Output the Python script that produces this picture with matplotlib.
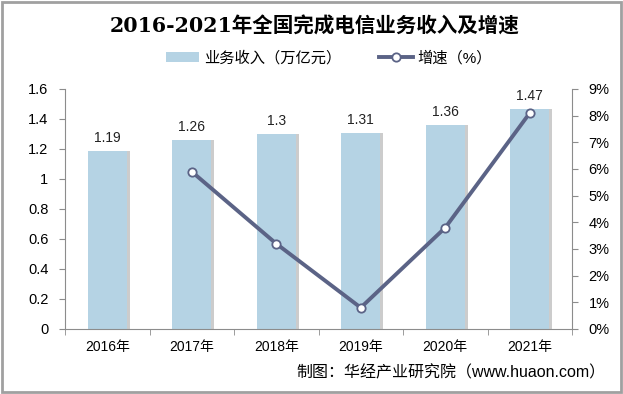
import numpy as np
import matplotlib.pyplot as plt
from matplotlib.patches import Rectangle

plt.rcParams['font.family'] = ['Liberation Sans', 'Noto Sans CJK SC']
plt.rcParams['axes.unicode_minus'] = False

years = ['2016年', '2017年', '2018年', '2019年', '2020年', '2021年']
revenue = [1.19, 1.26, 1.3, 1.31, 1.36, 1.47]
growth_years = [1, 2, 3, 4, 5]
growth = [5.9, 3.2, 0.8, 3.8, 8.1]

bar_color = '#b5d3e4'
line_color = '#5b6386'
gray = '#8c8c8c'

fig = plt.figure(figsize=(6.23, 3.94), dpi=100)
fig.patch.set_facecolor('white')
fig.add_artist(Rectangle((0.003, 0.004), 0.994, 0.99, transform=fig.transFigure,
                         fill=False, edgecolor='#a0a0a0', linewidth=2))

ax = fig.add_axes([65 / 623, 1 - 329 / 394, (572 - 65) / 623, (329 - 89) / 394])
x = np.arange(len(years))

# bar shadow then bar
ax.bar(x + 0.035, revenue, width=0.46, color='#9a9a9a', alpha=0.5, zorder=1)
bars = ax.bar(x, revenue, width=0.46, color=bar_color, zorder=2, label='业务收入（万亿元）')
for xi, v in zip(x, revenue):
    ax.text(xi, v + 0.04, f'{v:g}', ha='center', va='bottom', fontsize=10, color='#222222')

ax.set_xlim(-0.5, len(years) - 0.5)
ax.set_ylim(0, 1.6)
ax.set_yticks(np.arange(0, 1.61, 0.2))
ax.set_yticklabels(['0', '0.2', '0.4', '0.6', '0.8', '1', '1.2', '1.4', '1.6'])
ax.set_xticks(x)
ax.set_xticklabels(years, fontsize=10)
ax.set_xticks(np.arange(-0.5, len(years), 1), minor=True)
ax.tick_params(axis='x', which='major', length=0, pad=8)
ax.tick_params(axis='x', which='minor', length=4, color=gray)
ax.tick_params(axis='y', length=4, color=gray, labelsize=10.5, pad=8)
for s in ['top', 'right']:
    ax.spines[s].set_visible(False)
for s in ['left', 'bottom']:
    ax.spines[s].set_color(gray)

ax2 = ax.twinx()
line, = ax2.plot(growth_years, growth, color=line_color, linewidth=2.8, marker='o',
                 markersize=6, markerfacecolor='white', markeredgecolor=line_color,
                 markeredgewidth=1.3, zorder=5, label='增速（%）')
ax2.set_ylim(0, 9)
ax2.set_yticks(range(0, 10))
ax2.set_yticklabels([f'{i}%' for i in range(10)])
ax2.tick_params(axis='y', length=4, color=gray, labelsize=10.5, pad=8)
for s in ['top', 'left', 'bottom']:
    ax2.spines[s].set_visible(False)
ax2.spines['right'].set_color(gray)

fig.text(0.505, 1 - 27 / 394, '2016-2021年全国完成电信业务收入及增速', ha='center', va='center',
         fontsize=14.8, fontweight='bold', family=['DejaVu Serif', 'Noto Sans CJK SC'])
fig.legend(handles=[bars, line], loc='center', bbox_to_anchor=(0.528, 1 - 58 / 394),
           ncol=2, frameon=False, fontsize=11, handlelength=2.2, columnspacing=2.5,
           handletextpad=0.3)

fig.text(605 / 623, 1 - 373 / 394, '制图：华经产业研究院（www.huaon.com）', ha='right',
         va='center', fontsize=11.5)

fig.savefig('out.png', dpi=100)
